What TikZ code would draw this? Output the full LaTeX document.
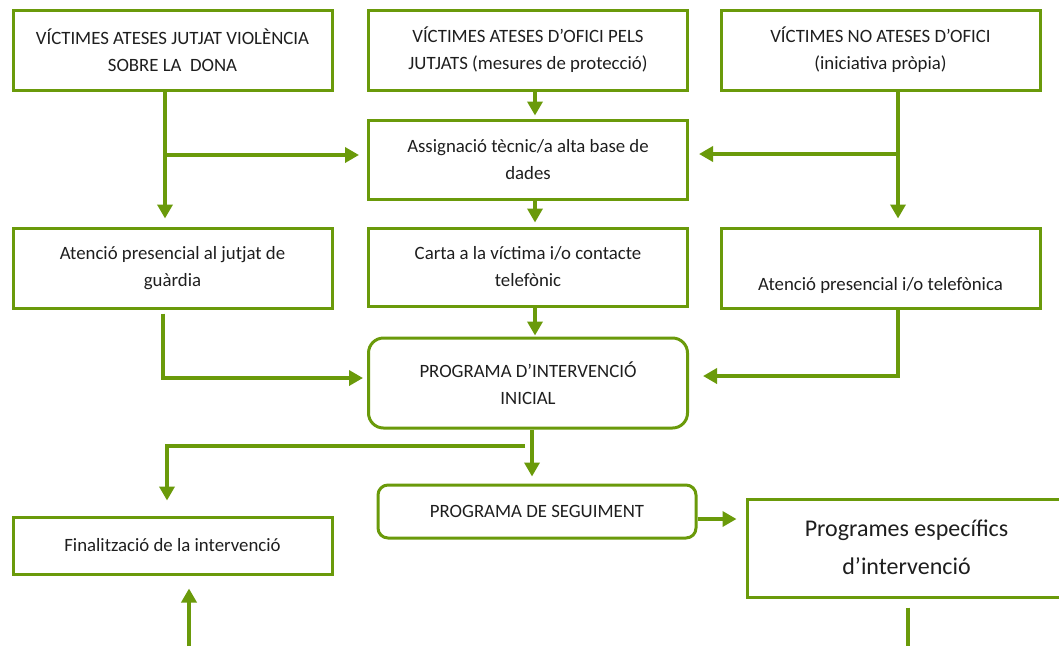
\documentclass[tikz,border=0pt]{standalone}
\usepackage{fontspec}
\setmainfont{Carlito}
\usetikzlibrary{arrows.meta}
\definecolor{vgreen}{RGB}{106,154,10}
\definecolor{vtext}{RGB}{30,30,30}
\tikzset{
  caixa/.style={draw=vgreen,line width=3pt,minimum width=319pt,minimum height=80pt,
    inner sep=0pt,align=center,text=vtext,font=\fontsize{18.8}{27}\selectfont},
  fletxa/.style={draw=vgreen,line width=4pt,-{Triangle[length=14pt,width=15pt]}},
  linia/.style={draw=vgreen,line width=4pt}
}

\begin{document}
\begin{tikzpicture}[x=1pt,y=-1pt]
\useasboundingbox (0,0) rectangle (1059,646);

% row-1 victimes
\node[caixa] (vjutjat) at (172.5,50) {VÍCTIMES ATESES JUTJAT VIOLÈNCIA\\SOBRE LA\ \ DONA};
\node[caixa] (vofici) at (528,50) {VÍCTIMES ATESES D’OFICI PELS\\JUTJATS (mesures de protecció)};
\node[caixa] (vnoofici) at (880.5,50) {VÍCTIMES NO ATESES D’OFICI\\(iniciativa pròpia)};

% row-2
\node[caixa,minimum height=79pt] (assignacio) at (528,159.5) {Assignació tècnic/a alta base de\\dades};

% row-3
\node[caixa] (atjutjat) at (172.5,268) {Atenció presencial al jutjat de\\guàrdia};
\node[caixa,minimum height=78pt] (carta) at (528,267) {Carta a la víctima i/o contacte\\telefònic};
\node[caixa] (attelef) at (880.5,268) {\raisebox{-22pt}[0pt][0pt]{Atenció presencial i/o telefònica}};

% row-4
\node[caixa,rounded corners=15pt,minimum height=90pt] (pinicial) at (528,383) {PROGRAMA D’INTERVENCIÓ\\INICIAL};

% row-5
\node[caixa,rounded corners=10pt,minimum width=318pt,minimum height=53pt] (pseguiment) at (537,511.5) {PROGRAMA DE SEGUIMENT};
\node[caixa,minimum height=57pt] (finalitzacio) at (172.5,545.5) {Finalització de la intervenció};
\node[caixa,minimum height=98pt,font=\fontsize{24}{38}\selectfont] (especifics) at (906.5,548) {\raisebox{2pt}{Programes específics}\\\raisebox{2pt}{d’intervenció}};

% branch points
\coordinate (b1) at (165,155);
\coordinate (b2) at (535,0);
\coordinate (b3) at (898,154);
\coordinate (b4) at (163,378);
\coordinate (b5) at (898,376);
\coordinate (b6) at (532,0);
\coordinate (b7) at (525,446);
\coordinate (b8) at (167,446);
\coordinate (b9) at (0,519);
\coordinate (b10) at (908,646);
\coordinate (b11) at (189,646);

% left column
\draw[fletxa,shorten >=8pt] (vjutjat.south -| b1) -- (atjutjat.north -| b1);
\draw[fletxa,shorten >=8pt] (b1) -- (assignacio.west |- b1);
\draw[fletxa,shorten <=4pt,shorten >=4pt] (atjutjat.south -| b4) -- (b4) -- (pinicial.west |- b4);

% middle column
\draw[fletxa,shorten >=3pt] (vofici.south -| b2) -- (assignacio.north -| b2);
\draw[fletxa,shorten >=4pt] (assignacio.south -| b2) -- (carta.north -| b2);
\draw[fletxa,shorten >=1pt] (carta.south -| b2) -- (pinicial.north -| b2);
\draw[fletxa,shorten >=7pt] (pinicial.south -| b6) -- (pseguiment.north -| b6);

% right column
\draw[fletxa,shorten >=8pt] (vnoofici.south -| b3) -- (attelef.north -| b3);
\draw[fletxa,shorten >=10pt] (b3) -- (assignacio.east |- b3);
\draw[fletxa,shorten >=14pt] (attelef.south -| b5) -- (b5) -- (pinicial.east |- b5);

% bottom
\draw[fletxa,shorten >=15pt] (b7) -- (b8) -- (finalitzacio.north -| b8);
\draw[fletxa,shorten >=9pt] (pseguiment.east |- b9) -- (especifics.west |- b9);
\draw[linia,shorten <=9pt] (especifics.south -| b10) -- (b10);
\draw[fletxa,shorten >=13pt] (b11) -- (finalitzacio.south -| b11);
\end{tikzpicture}
\end{document}
